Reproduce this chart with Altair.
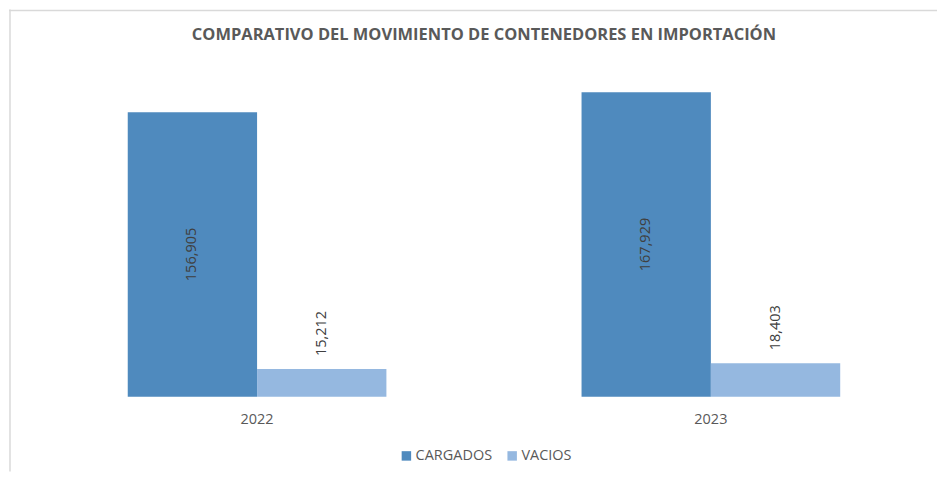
import altair as alt
import pandas as pd

years = ["2022", "2022", "2023", "2023"]
series = ["CARGADOS", "VACIOS", "CARGADOS", "VACIOS"]
values = [156905, 15212, 167929, 18403]

df = pd.DataFrame({"year": years, "series": series, "value": values})

FONT = "Open Sans"
colors = ["#4f8abe", "#95b8e0"]
W, H = 930, 463

x = alt.X("year:N", title=None,
          scale=alt.Scale(range=[119, 833], paddingInner=0.43, paddingOuter=0),
          axis=alt.Axis(labelAngle=0, domain=False, ticks=False, tickSize=0, grid=False,
                        labelPadding=16, offset=388 - H, labelFontSize=14.5,
                        labelColor="#595959", labelFont=FONT))
xo = alt.XOffset("series:N", sort=["CARGADOS", "VACIOS"],
                 scale=alt.Scale(paddingInner=0, paddingOuter=0))
yscale = alt.Scale(domain=[0, 180000], range=[388, 61.1])

base = alt.Chart(df)

bars = base.mark_bar().encode(
    x=x, xOffset=xo,
    y=alt.Y("value:Q", scale=yscale, axis=None),
    color=alt.Color("series:N", sort=["CARGADOS", "VACIOS"],
                    scale=alt.Scale(domain=["CARGADOS", "VACIOS"], range=colors),
                    legend=alt.Legend(title=None, orient="none", direction="horizontal",
                                      legendX=391, legendY=440, symbolType="square",
                                      symbolSize=90, symbolStrokeWidth=0,
                                      labelFontSize=14.5, labelColor="#595959", labelFont=FONT,
                                      labelOffset=2, columnPadding=12)),
)

lab_in = base.transform_filter(alt.datum.series == "CARGADOS").transform_calculate(
    mid="datum.value / 2"
).mark_text(angle=270, align="center", baseline="middle", fontSize=14.5,
            font=FONT, color="#404040").encode(
    x=x, xOffset=xo,
    y=alt.Y("mid:Q", scale=yscale, axis=None),
    text=alt.Text("value:Q", format=",")
)

lab_out = base.transform_filter(alt.datum.series == "VACIOS").mark_text(
    angle=270, align="left", baseline="middle", dx=13, fontSize=14.5,
    font=FONT, color="#404040").encode(
    x=x, xOffset=xo,
    y=alt.Y("value:Q", scale=yscale, axis=None),
    text=alt.Text("value:Q", format=",")
)

frame_df = pd.DataFrame({"k": [0]})
top_line = alt.Chart(frame_df).mark_rule(color="#d9d9d9", strokeWidth=1.5).encode(
    x=alt.value(0), x2=alt.value(W), y=alt.value(1))
left_line = alt.Chart(frame_df).mark_rule(color="#d9d9d9", strokeWidth=1.5).encode(
    x=alt.value(1), y=alt.value(0), y2=alt.value(H))

chart = alt.layer(top_line, left_line, bars, lab_in, lab_out).properties(
    width=W, height=H, padding=0,
    title=alt.TitleParams("COMPARATIVO DEL MOVIMIENTO DE CONTENEDORES EN IMPORTACIÓN",
                          offset=-34.5, dx=11, fontSize=16.5, font=FONT, fontWeight="bold",
                          color="#595959", anchor="middle"),
).configure_view(stroke=None)

chart.save("out.html", embed_options={"renderer": "svg", "actions": False})
